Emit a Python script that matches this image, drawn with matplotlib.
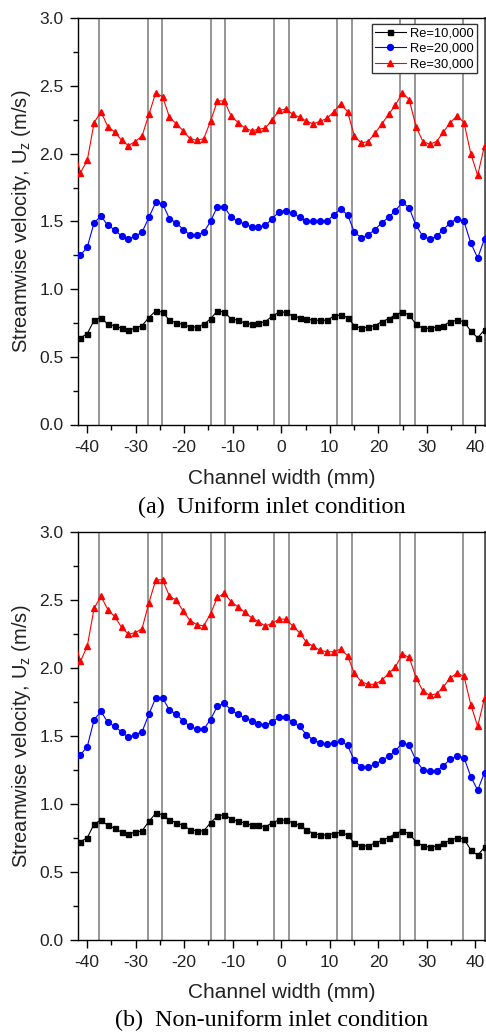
import numpy as np
import matplotlib
matplotlib.use("Agg")
import matplotlib.pyplot as plt
from matplotlib.ticker import MultipleLocator, FormatStrFormatter

plt.rcParams['font.family'] = ['Liberation Sans', 'DejaVu Sans']
plt.rcParams['axes.unicode_minus'] = False

# ---------------- data ----------------
# measurement positions across the channel (mm); first one lies just outside the plotted range
x_mm = np.concatenate([[-42.8], np.linspace(-41.4, 41.9, 60)])

# vertical reference lines (rib / wall positions, mm)
rib_lines = [-37.5, -27.5, -24.5, -14.5, -11.5, -1.5, 1.5, 11.5, 14.5, 24.5, 27.5, 37.5]

labels = ['Re=10,000', 'Re=20,000', 'Re=30,000']

# (a) uniform inlet
uni_re10 = [0.65,
            0.64, 0.67, 0.77, 0.79, 0.74, 0.73, 0.71, 0.70, 0.71, 0.73,
            0.79, 0.84, 0.83, 0.77, 0.75, 0.74, 0.72, 0.72, 0.74, 0.78,
            0.84, 0.83, 0.78, 0.77, 0.75, 0.74, 0.75, 0.76, 0.80, 0.83,
            0.83, 0.80, 0.79, 0.78, 0.77, 0.77, 0.77, 0.80, 0.81, 0.79,
            0.73, 0.71, 0.72, 0.73, 0.76, 0.78, 0.81, 0.83, 0.81, 0.74,
            0.71, 0.71, 0.72, 0.73, 0.76, 0.77, 0.76, 0.69, 0.64, 0.70]
uni_re20 = [1.27,
            1.25, 1.31, 1.49, 1.54, 1.47, 1.44, 1.39, 1.37, 1.39, 1.42,
            1.53, 1.64, 1.63, 1.52, 1.49, 1.44, 1.40, 1.40, 1.42, 1.50,
            1.61, 1.61, 1.53, 1.50, 1.48, 1.46, 1.46, 1.47, 1.52, 1.57,
            1.58, 1.56, 1.53, 1.50, 1.50, 1.50, 1.50, 1.55, 1.59, 1.55,
            1.42, 1.38, 1.40, 1.44, 1.49, 1.53, 1.58, 1.64, 1.60, 1.47,
            1.39, 1.37, 1.39, 1.44, 1.49, 1.52, 1.50, 1.34, 1.23, 1.37]
uni_re30 = [2.06,
            1.86, 1.95, 2.23, 2.31, 2.20, 2.16, 2.10, 2.06, 2.09, 2.13,
            2.29, 2.45, 2.42, 2.27, 2.22, 2.17, 2.11, 2.10, 2.11, 2.24,
            2.39, 2.39, 2.28, 2.23, 2.19, 2.17, 2.18, 2.19, 2.25, 2.32,
            2.33, 2.29, 2.27, 2.24, 2.22, 2.24, 2.26, 2.31, 2.37, 2.31,
            2.13, 2.08, 2.09, 2.15, 2.22, 2.29, 2.36, 2.45, 2.40, 2.20,
            2.09, 2.07, 2.09, 2.16, 2.23, 2.28, 2.23, 2.00, 1.84, 2.06]

# (b) non-uniform inlet
non_re10 = [0.73,
            0.72, 0.75, 0.85, 0.88, 0.84, 0.82, 0.79, 0.78, 0.79, 0.80,
            0.87, 0.93, 0.92, 0.88, 0.86, 0.84, 0.81, 0.80, 0.80, 0.86,
            0.91, 0.92, 0.89, 0.87, 0.86, 0.84, 0.84, 0.83, 0.86, 0.88,
            0.88, 0.86, 0.84, 0.81, 0.78, 0.77, 0.77, 0.78, 0.79, 0.77,
            0.71, 0.69, 0.69, 0.71, 0.73, 0.75, 0.78, 0.80, 0.78, 0.72,
            0.69, 0.68, 0.69, 0.71, 0.73, 0.75, 0.74, 0.66, 0.62, 0.68]
non_re20 = [1.38,
            1.36, 1.42, 1.62, 1.68, 1.60, 1.57, 1.53, 1.49, 1.51, 1.53,
            1.66, 1.78, 1.78, 1.69, 1.66, 1.61, 1.57, 1.55, 1.55, 1.62,
            1.72, 1.74, 1.69, 1.66, 1.63, 1.61, 1.59, 1.58, 1.60, 1.64,
            1.64, 1.60, 1.57, 1.51, 1.47, 1.45, 1.44, 1.45, 1.46, 1.43,
            1.32, 1.27, 1.27, 1.29, 1.32, 1.35, 1.39, 1.45, 1.43, 1.32,
            1.25, 1.24, 1.24, 1.28, 1.33, 1.35, 1.34, 1.20, 1.10, 1.23]
non_re30 = [2.24,
            2.05, 2.16, 2.44, 2.53, 2.43, 2.38, 2.30, 2.25, 2.26, 2.29,
            2.48, 2.65, 2.65, 2.53, 2.50, 2.42, 2.35, 2.32, 2.31, 2.40,
            2.52, 2.55, 2.49, 2.45, 2.41, 2.37, 2.34, 2.31, 2.33, 2.36,
            2.36, 2.31, 2.26, 2.19, 2.16, 2.13, 2.12, 2.12, 2.14, 2.09,
            1.96, 1.90, 1.88, 1.88, 1.91, 1.96, 2.01, 2.10, 2.08, 1.93,
            1.83, 1.80, 1.81, 1.86, 1.93, 1.96, 1.94, 1.73, 1.57, 1.78]

captions = ['(a)  Uniform inlet condition', '(b)  Non-uniform inlet condition']
xlabel = 'Channel width (mm)'
ylabel = 'Streamwise velocity, U$_\\mathregular{z}$ (m/s)'

# ---------------- figure ----------------
W, H = 486, 1032
fig = plt.figure(figsize=(W / 100, H / 100), dpi=100)

ax_left = 77.5
ax_right = 485.0
panels = [
    (18.3, 424.5, uni_re10, uni_re20, uni_re30, captions[0], 507),
    (532.3, 939.5, non_re10, non_re20, non_re30, captions[1], 1020),
]

styles = [
    dict(color='black', marker='s', markersize=3.6),
    dict(color='blue', marker='o', markersize=4.2),
    dict(color='red', marker='^', markersize=4.6),
]

for top, bottom, s10, s20, s30, cap, cap_y in panels:
    ax = fig.add_axes([ax_left / W, 1 - bottom / H, (ax_right - ax_left) / W, (bottom - top) / H])
    for xv in rib_lines:
        ax.axvline(xv, color='#8e8e8e', lw=1.3, zorder=1)
    for series, st, lab in zip([s10, s20, s30], styles, labels):
        ax.plot(x_mm, series, lw=0.8, label=lab, zorder=3, **st)
    ax.set_xlim(-42, 42)
    ax.set_ylim(0, 3.0)
    ax.xaxis.set_major_locator(MultipleLocator(10))
    ax.xaxis.set_minor_locator(MultipleLocator(5))
    ax.yaxis.set_major_locator(MultipleLocator(0.5))
    ax.yaxis.set_minor_locator(MultipleLocator(0.25))
    ax.yaxis.set_major_formatter(FormatStrFormatter('%.1f'))
    ax.tick_params(axis='both', which='major', direction='out', length=6, width=1,
                   labelsize=12.5, colors='black', labelcolor='#222222')
    ax.tick_params(axis='both', which='minor', direction='out', length=3.5, width=1)
    ax.tick_params(axis='x', which='major', pad=5)
    ax.tick_params(axis='y', which='major', pad=4)
    for sp in ['left', 'bottom', 'top']:
        ax.spines[sp].set_linewidth(1.0)
        ax.spines[sp].set_color('black')
    ax.spines['right'].set_color('#555555')
    ax.spines['right'].set_linewidth(2.0)

    ax.set_xlabel(xlabel, fontsize=15, color='#222222')
    ax.xaxis.set_label_coords(0.5, -53.5 / (bottom - top))
    ax.xaxis.label.set_va('center')
    ax.set_ylabel(ylabel, fontsize=14.5, color='#222222')
    ax.yaxis.set_label_coords((21.7 - ax_left) / (ax_right - ax_left), 0.5)
    ax.yaxis.label.set_va('center')

    leg = ax.legend(loc='upper right', bbox_to_anchor=((476.7 - ax_left) / (ax_right - ax_left),
                                                         1 - (24.3 - top) / (bottom - top)),
                    fontsize=9.3, frameon=True, fancybox=False, framealpha=1,
                    edgecolor='#333333', handlelength=2.4, handletextpad=0.3,
                    labelspacing=0.25, borderpad=0.25, borderaxespad=0, numpoints=1)
    leg.get_frame().set_linewidth(0.9)
    leg.set_zorder(5)

    fig.text(272 / W, 1 - cap_y / H, cap, ha='center', va='center', fontsize=17.4,
             family=['Liberation Serif', 'DejaVu Serif'], color='black')

fig.savefig('out.png', dpi=100)
